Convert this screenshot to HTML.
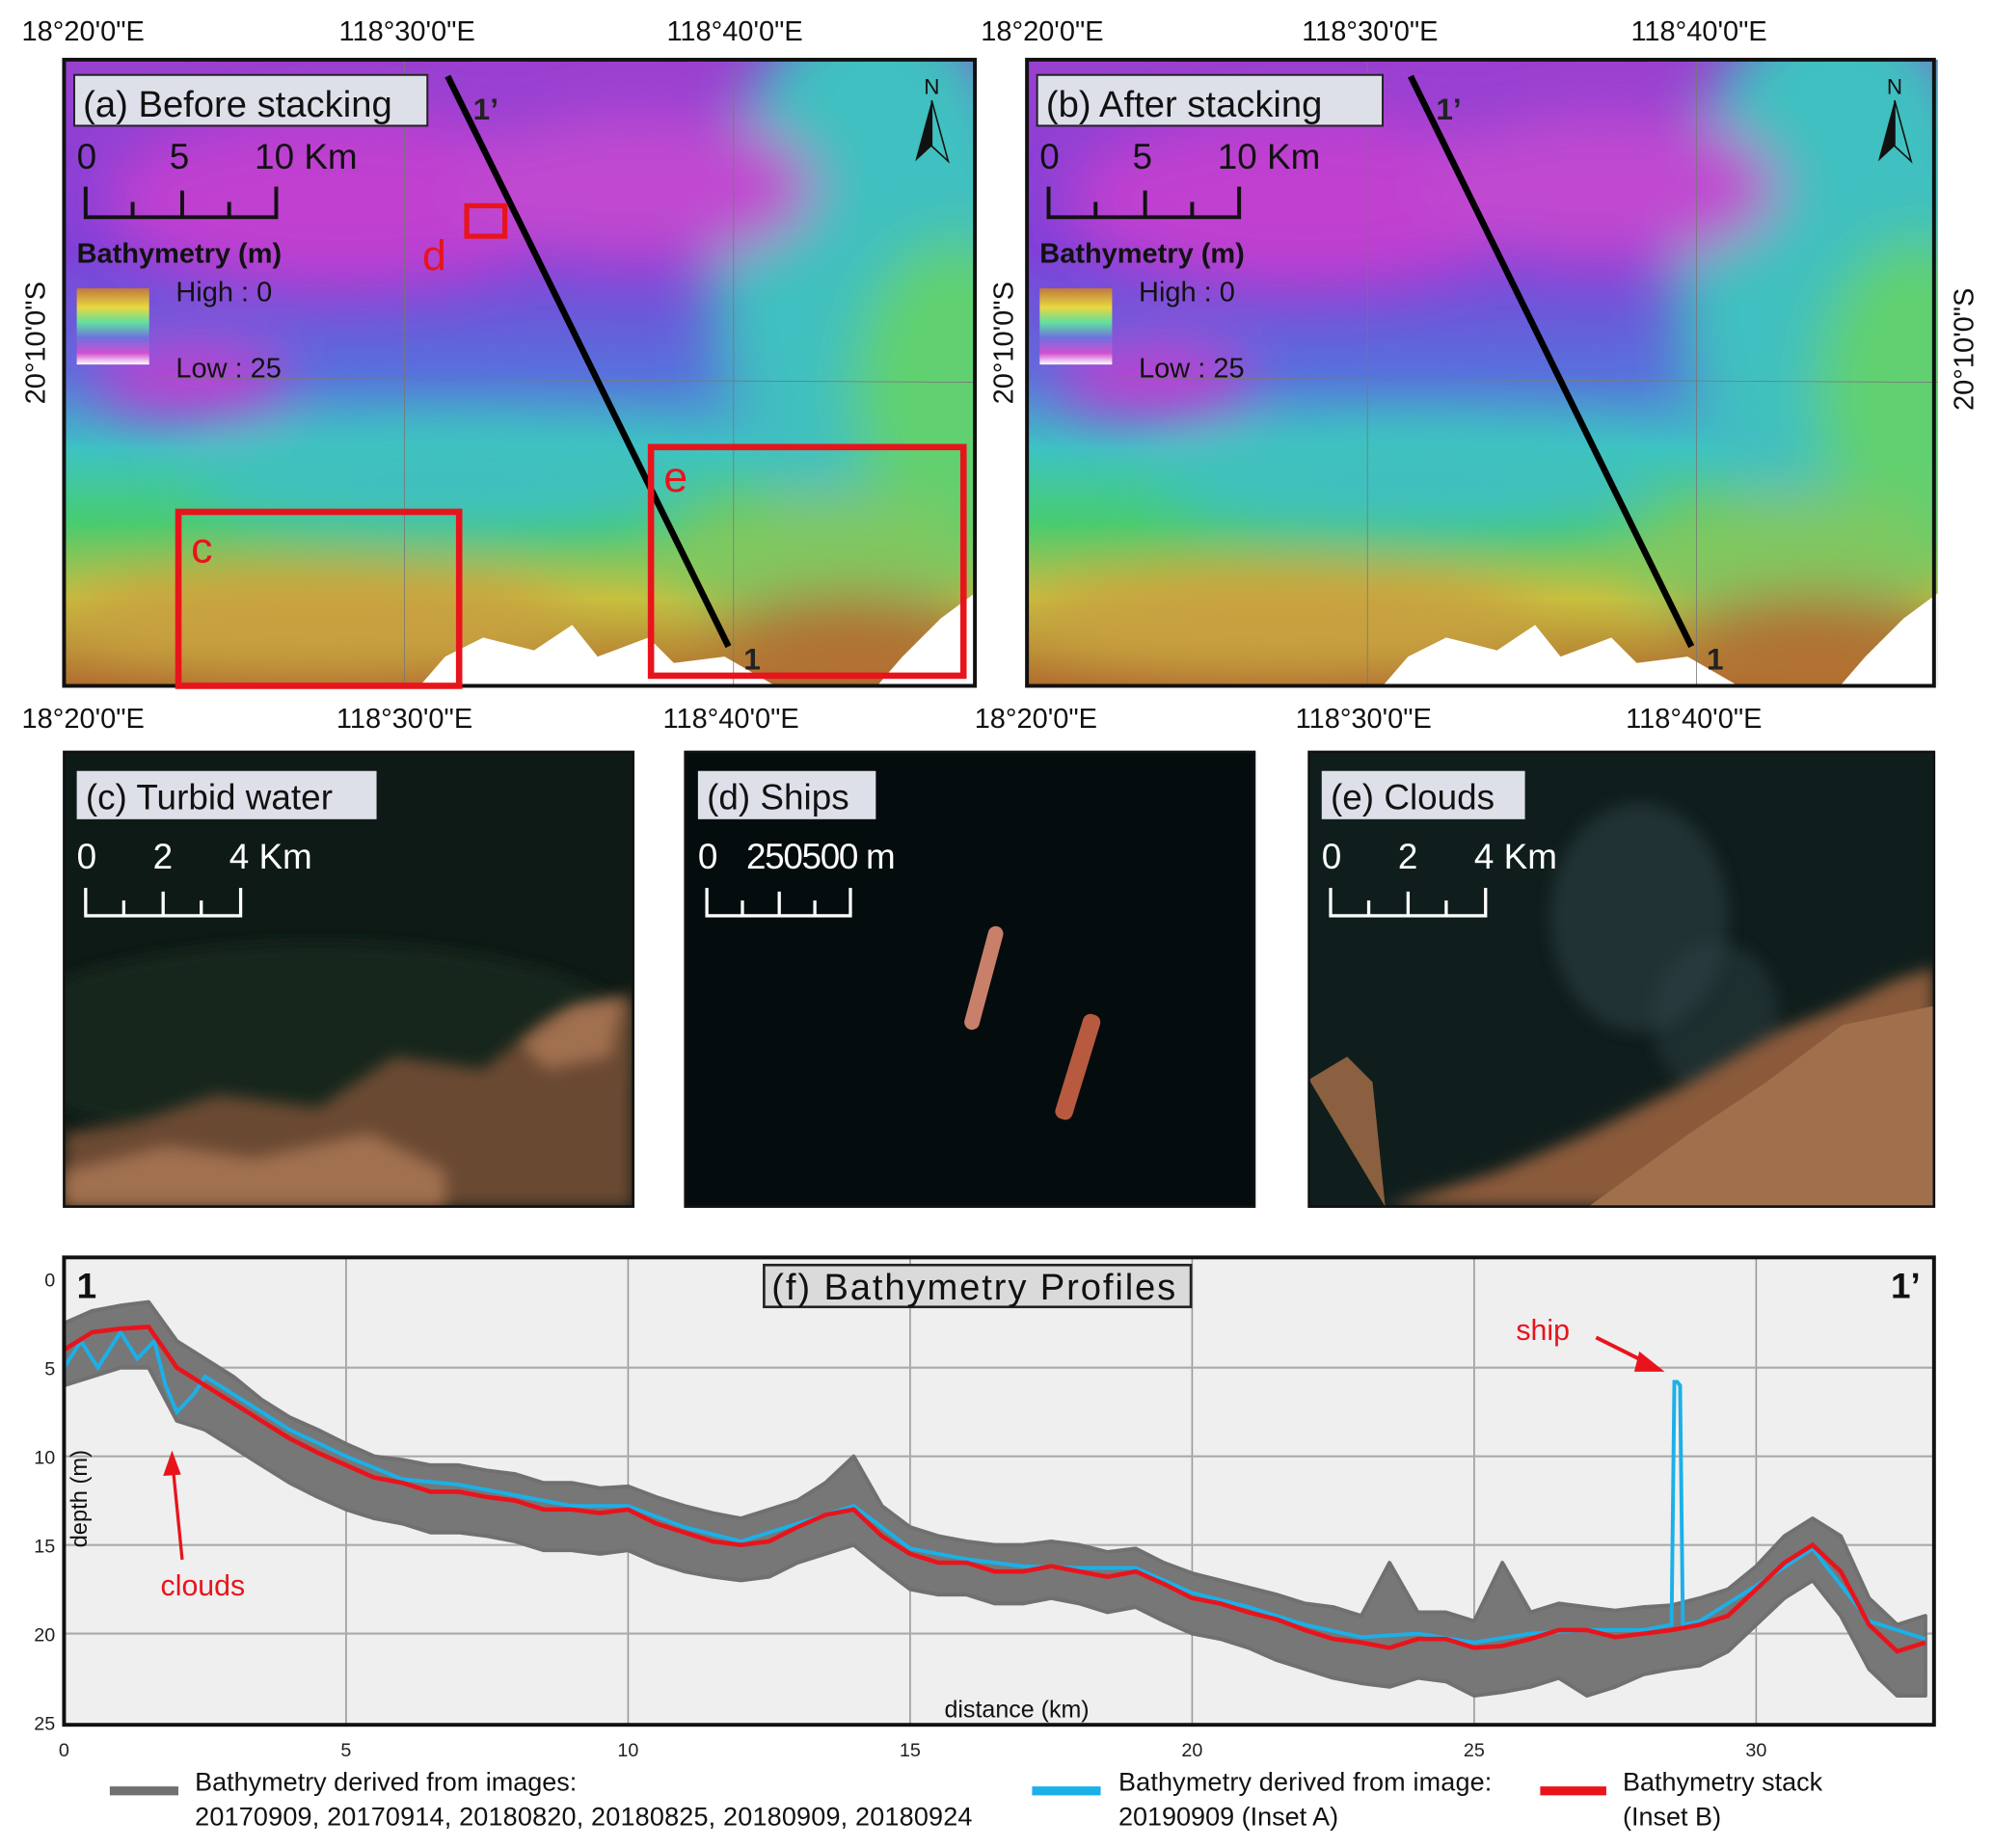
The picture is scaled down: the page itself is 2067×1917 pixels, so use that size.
<!DOCTYPE html>
<html><head><meta charset="utf-8"><style>
html,body{margin:0;padding:0;background:#fff}
svg{display:block}
text{font-family:"Liberation Sans",Arial,sans-serif}
</style></head><body>
<svg id="fig" width="2067" height="1917" viewBox="0 0 1568 1455" xmlns="http://www.w3.org/2000/svg">
<defs>
<linearGradient id="depthg" x1="0" y1="0" x2="0" y2="1">
<stop offset="0" stop-color="#9a40d0"/><stop offset="0.3" stop-color="#8040d8"/><stop offset="0.5" stop-color="#5870dc"/>
<stop offset="0.62" stop-color="#3cc4c4"/><stop offset="0.74" stop-color="#48cc70"/><stop offset="0.86" stop-color="#c8c040"/><stop offset="1" stop-color="#b06a30"/>
</linearGradient>
<linearGradient id="legg" x1="0" y1="0" x2="0" y2="1">
<stop offset="0" stop-color="#c07840"/><stop offset="0.25" stop-color="#e8d840"/><stop offset="0.45" stop-color="#60e0a0"/><stop offset="0.65" stop-color="#7070e0"/><stop offset="0.85" stop-color="#d050d0"/><stop offset="1" stop-color="#fff"/>
</linearGradient>
<filter id="blur" x="-30%" y="-30%" width="160%" height="160%"><feGaussianBlur stdDeviation="22"/></filter>
<filter id="blur2"><feGaussianBlur stdDeviation="6"/></filter>
<clipPath id="mapclip"><rect x="0" y="0" width="717" height="493"/></clipPath>
<clipPath id="insclip"><rect x="0" y="0" width="448" height="358"/></clipPath>
<clipPath id="insclipe"><rect x="0" y="0" width="492" height="358"/></clipPath>
<g id="mapbg">
<g clip-path="url(#mapclip)">
<rect x="0" y="0" width="717" height="493" fill="url(#depthg)"/>
<g filter="url(#blur)">
<ellipse cx="640" cy="170" rx="130" ry="220" fill="#40c0c0"/>
<ellipse cx="700" cy="260" rx="80" ry="120" fill="#60d070"/>
<ellipse cx="220" cy="110" rx="190" ry="70" fill="#c040d0"/>
<ellipse cx="450" cy="100" rx="140" ry="60" fill="#c048d0"/>
<ellipse cx="100" cy="250" rx="80" ry="30" fill="#c040d0"/>
<ellipse cx="300" cy="330" rx="200" ry="40" fill="#40c0c0"/>
<ellipse cx="600" cy="390" rx="130" ry="50" fill="#80c860"/>
<ellipse cx="200" cy="440" rx="200" ry="40" fill="#c8a040"/>
<ellipse cx="620" cy="460" rx="110" ry="40" fill="#b07030"/>
</g>
<path d="M280,493 L300,470 L330,455 L370,465 L400,445 L420,470 L460,455 L480,475 L520,470 L560,493 Z" fill="#fff"/>
<path d="M640,493 L660,470 L690,440 L717,420 L717,493 Z" fill="#fff"/>
<line x1="268" y1="0" x2="268" y2="493" stroke="#777" stroke-width="0.6"/>
<line x1="527" y1="0" x2="527" y2="493" stroke="#777" stroke-width="0.6"/>
<line x1="0" y1="250" x2="717" y2="254" stroke="#777" stroke-width="0.6"/>
</g>
</g>
</defs>

<g font-size="22" fill="#111" text-anchor="middle">
<text x="65" y="32">18°20'0"E</text><text x="320" y="32">118°30'0"E</text><text x="578" y="32">118°40'0"E</text>
<text x="820" y="32">18°20'0"E</text><text x="1078" y="32">118°30'0"E</text><text x="1337" y="32">118°40'0"E</text>
<text x="65" y="573">18°20'0"E</text><text x="318" y="573">118°30'0"E</text><text x="575" y="573">118°40'0"E</text>
<text x="815" y="573">18°20'0"E</text><text x="1073" y="573">118°30'0"E</text><text x="1333" y="573">118°40'0"E</text>
<text transform="translate(35,270) rotate(-90)">20°10'0"S</text>
<text transform="translate(797,270) rotate(-90)">20°10'0"S</text>
<text transform="translate(1553,275) rotate(-90)">20°10'0"S</text>
</g>

<g transform="translate(50,47)">
<use href="#mapbg"/>
<rect x="0" y="0" width="717" height="493" fill="none" stroke="#111" stroke-width="3"/>
<rect x="8" y="12" width="278" height="40" fill="#dde0e8" stroke="#222" stroke-width="1.5"/>
<text x="15" y="45" font-size="29" fill="#111">(a) Before stacking</text>
<text x="10" y="86" font-size="28" fill="#111">0</text><text x="83" y="86" font-size="28" fill="#111">5</text><text x="150" y="86" font-size="28" fill="#111">10 Km</text>
<path d="M17,100 V124 H167 V100 M54,112 V124 M93,103 V124 M130,112 V124" fill="none" stroke="#111" stroke-width="3"/>
<text x="10" y="160" font-size="22" font-weight="bold" font-family="Liberation Serif" fill="#111">Bathymetry (m)</text>
<rect x="10" y="180" width="57" height="60" fill="url(#legg)"/>
<text x="88" y="190" font-size="22" fill="#111">High : 0</text>
<text x="88" y="250" font-size="22" fill="#111">Low :  25</text>
<line x1="302" y1="13" x2="523" y2="462" stroke="#000" stroke-width="5"/>
<text x="322" y="47" font-size="24" font-weight="bold" fill="#222">1’</text>
<text x="535" y="480" font-size="24" font-weight="bold" fill="#222">1</text>
<g><text x="683" y="27" font-size="17" text-anchor="middle" fill="#111">N</text><path d="M683,32 L670,80 L683,68 Z" fill="#111"/><path d="M683,32 L696,80 L683,68 Z" fill="none" stroke="#111" stroke-width="1.2"/></g>
<rect x="90" y="356" width="221" height="137" fill="none" stroke="#e8141c" stroke-width="5"/>
<text x="100" y="396" font-size="34" fill="#e8141c">c</text>
<rect x="462" y="305" width="246" height="180" fill="none" stroke="#e8141c" stroke-width="5"/>
<text x="472" y="340" font-size="34" fill="#e8141c">e</text>
<rect x="317" y="115" width="30" height="24" fill="none" stroke="#e8141c" stroke-width="4"/>
<text x="282" y="166" font-size="34" fill="#e8141c">d</text>
</g>

<g transform="translate(808,47)">
<use href="#mapbg"/>
<rect x="0" y="0" width="714" height="493" fill="none" stroke="#111" stroke-width="3"/>
<rect x="8" y="12" width="272" height="40" fill="#dde0e8" stroke="#222" stroke-width="1.5"/>
<text x="15" y="45" font-size="29" fill="#111">(b) After stacking</text>
<text x="10" y="86" font-size="28" fill="#111">0</text><text x="83" y="86" font-size="28" fill="#111">5</text><text x="150" y="86" font-size="28" fill="#111">10 Km</text>
<path d="M17,100 V124 H167 V100 M54,112 V124 M93,103 V124 M130,112 V124" fill="none" stroke="#111" stroke-width="3"/>
<text x="10" y="160" font-size="22" font-weight="bold" font-family="Liberation Serif" fill="#111">Bathymetry (m)</text>
<rect x="10" y="180" width="57" height="60" fill="url(#legg)"/>
<text x="88" y="190" font-size="22" fill="#111">High : 0</text>
<text x="88" y="250" font-size="22" fill="#111">Low :  25</text>
<line x1="302" y1="13" x2="523" y2="462" stroke="#000" stroke-width="5"/>
<text x="322" y="47" font-size="24" font-weight="bold" fill="#222">1’</text>
<text x="535" y="480" font-size="24" font-weight="bold" fill="#222">1</text>
<g><text x="683" y="27" font-size="17" text-anchor="middle" fill="#111">N</text><path d="M683,32 L670,80 L683,68 Z" fill="#111"/><path d="M683,32 L696,80 L683,68 Z" fill="none" stroke="#111" stroke-width="1.2"/></g>
</g>

<g transform="translate(50,592)">
<g clip-path="url(#insclip)">
<rect width="448" height="358" fill="#0e1a16"/>
<ellipse cx="200" cy="230" rx="260" ry="80" fill="#16281e" filter="url(#blur2)"/>
<path d="M0,300 L60,290 L120,270 L200,280 L260,240 L330,250 L380,210 L448,190 L448,358 L0,358 Z" fill="#6a4a30" filter="url(#blur2)"/>
<path d="M360,230 L400,200 L440,195 L430,240 L380,250 Z M0,330 L80,310 L150,320 L240,300 L300,330 L300,358 L0,358 Z" fill="#a07050" filter="url(#blur2)"/>
</g>
<rect width="448" height="358" fill="none" stroke="#111" stroke-width="2"/>
<rect x="10" y="15" width="236" height="38" fill="#dde0e8"/>
<text x="17" y="45" font-size="28" fill="#111">(c) Turbid water</text>
<text x="10" y="92" font-size="28" fill="#fff">0</text><text x="70" y="92" font-size="28" fill="#fff">2</text><text x="130" y="92" font-size="28" fill="#fff">4 Km</text>
<path d="M17,107 V129 H139 V107 M47,117 V129 M78,110 V129 M108,117 V129" fill="none" stroke="#fff" stroke-width="2.5"/>
</g>

<g transform="translate(539,592)">
<rect width="448" height="358" fill="#050c0e"/>
<g><rect x="-6" y="-42" width="12" height="84" rx="6" fill="#c8806a" transform="translate(235,178) rotate(15)"/></g>
<g><rect x="-7" y="-43" width="14" height="86" rx="6" fill="#b85a40" transform="translate(309,248) rotate(17)"/></g>
<rect width="448" height="358" fill="none" stroke="#111" stroke-width="2"/>
<rect x="10" y="15" width="140" height="38" fill="#dde0e8"/>
<text x="17" y="45" font-size="28" fill="#111">(d) Ships</text>
<text x="10" y="92" font-size="28" fill="#fff">0</text><text x="48" y="92" font-size="28" fill="#fff" letter-spacing="-1">250500 m</text>
<path d="M17,107 V129 H130 V107 M45,117 V129 M74,110 V129 M102,117 V129" fill="none" stroke="#fff" stroke-width="2.5"/>
</g>

<g transform="translate(1030,592)">
<g clip-path="url(#insclipe)">
<rect width="492" height="358" fill="#0f1e1c"/>
<ellipse cx="260" cy="130" rx="70" ry="90" fill="#2e4044" opacity="0.6" filter="url(#blur2)"/>
<ellipse cx="320" cy="210" rx="50" ry="60" fill="#2e4044" opacity="0.5" filter="url(#blur2)"/>
<path d="M0,258 L30,240 L50,260 L60,358 Z" fill="#8a6040"/>
<path d="M60,358 L150,330 L220,300 L300,260 L370,220 L420,200 L460,180 L492,170 L492,358 Z" fill="#8a5a3a" filter="url(#blur2)"/>
<path d="M220,358 L300,300 L360,260 L420,215 L492,200 L492,358 Z" fill="#a0704c"/>
</g>
<rect width="492" height="358" fill="none" stroke="#111" stroke-width="2"/>
<rect x="10" y="15" width="160" height="38" fill="#dde0e8"/>
<text x="17" y="45" font-size="28" fill="#111">(e) Clouds</text>
<text x="10" y="92" font-size="28" fill="#fff">0</text><text x="70" y="92" font-size="28" fill="#fff">2</text><text x="130" y="92" font-size="28" fill="#fff">4 Km</text>
<path d="M17,107 V129 H139 V107 M47,117 V129 M78,110 V129 M108,117 V129" fill="none" stroke="#fff" stroke-width="2.5"/>
</g>

<g id="chart">
<rect x="50" y="990" width="1472" height="368" fill="#efefef"/>
<g id="grid"></g>
<g id="series"></g>
<rect x="50" y="990" width="1472" height="368" fill="none" stroke="#111" stroke-width="3"/>
<g id="ticks" font-size="15" fill="#222"></g>
<text x="60" y="1022" font-size="28" font-weight="bold" fill="#111">1</text>
<text x="1488" y="1022" font-size="28" font-weight="bold" fill="#111">1’</text>
<rect x="601" y="996" width="336" height="33" fill="#dadada" stroke="#222" stroke-width="2"/>
<text x="607" y="1023" font-size="29" fill="#111" textLength="318">(f)  Bathymetry Profiles</text>
<text transform="translate(68,1180) rotate(-90)" font-size="18" text-anchor="middle" fill="#111">depth (m)</text>
<text x="800" y="1352" font-size="19" text-anchor="middle" fill="#111">distance (km)</text>
<g><text x="1193" y="1055" font-size="23" fill="#e8141c">ship</text>
<line x1="1256" y1="1053" x2="1300" y2="1075" stroke="#e8141c" stroke-width="3"/><path d="M1310,1080 L1290,1064 L1286,1080 Z" fill="#e8141c"/></g>
<g><text x="126" y="1256" font-size="23" fill="#e8141c">clouds</text>
<line x1="143" y1="1228" x2="136" y2="1158" stroke="#e8141c" stroke-width="2.5"/><path d="M135,1142 L128,1162 L142,1161 Z" fill="#e8141c"/></g>
<g font-size="20.5" fill="#111">
<line x1="86" y1="1410" x2="140" y2="1410" stroke="#707070" stroke-width="7"/>
<text x="153" y="1410">Bathymetry derived from images:</text>
<text x="153" y="1437" textLength="612">20170909, 20170914, 20180820, 20180825, 20180909, 20180924</text>
<line x1="812" y1="1410" x2="866" y2="1410" stroke="#1cb0e8" stroke-width="7"/>
<text x="880" y="1410" textLength="294">Bathymetry derived from image:</text>
<text x="880" y="1437">20190909 (Inset A)</text>
<line x1="1212" y1="1410" x2="1264" y2="1410" stroke="#e8141c" stroke-width="7"/>
<text x="1277" y="1410">Bathymetry stack</text>
<text x="1277" y="1437">(Inset B)</text>
</g>
</g>
</svg>
<script>
const xTicks = [0, 5, 10, 15, 20, 25, 30];
const yTicks = [0, 5, 10, 15, 20, 25];
const distKm = [0,0.5,1,1.5,2,2.5,3,3.5,4,4.5,5,5.5,6,6.5,7,7.5,8,8.5,9,9.5,10,10.5,11,11.5,12,12.5,13,13.5,14,14.5,15,15.5,16,16.5,17,17.5,18,18.5,19,19.5,20,20.5,21,21.5,22,22.5,23,23.5,24,24.5,25,25.5,26,26.5,27,27.5,28,28.5,29,29.5,30,30.5,31,31.5,32,32.5,33];
const stackDepth = [4,3,2.8,2.7,5,6,7,8,9,9.8,10.5,11.2,11.5,12,12,12.3,12.5,13,13,13.2,13,13.8,14.3,14.8,15,14.8,14,13.3,13,14.5,15.5,16,16,16.5,16.5,16.2,16.5,16.8,16.5,17.2,18,18.3,18.8,19.2,19.8,20.3,20.5,20.8,20.3,20.3,20.8,20.7,20.3,19.8,19.8,20.2,20,19.8,19.5,19,17.5,16,15,16.5,19.5,21,20.5];
const grayShallow = [2.5,1.8,1.5,1.3,3.5,4.5,5.5,6.8,7.8,8.5,9.3,10,10.2,10.5,10.5,10.8,11,11.5,11.5,11.8,11.7,12.3,12.8,13.2,13.5,13,12.5,11.5,10,12.8,14,14.5,14.8,15,15,14.8,15,15.4,15.2,16,16.6,17,17.4,17.8,18.3,18.5,19,16,18.8,18.8,19.3,16,18.8,18.3,18.5,18.7,18.5,18.4,18,17.5,16.2,14.5,13.5,14.5,18,19.5,19];
const grayDeep = [6,5.5,5,5,8,8.5,9.5,10.5,11.5,12.3,13,13.5,13.8,14.3,14.3,14.5,14.8,15.3,15.3,15.5,15.3,16,16.5,16.8,17,16.8,16,15.5,15,16.3,17.5,17.8,17.8,18.3,18.3,18,18.3,18.8,18.5,19.3,20,20.3,20.8,21.5,22,22.5,22.8,23,22.5,22.7,23.5,23.3,23,22.5,23.5,23,22.3,22,21.8,21,19.5,18,17,19,22,23.5,23.5];
const blueKm = [0,0.3,0.6,1,1.3,1.6,1.8,2,2.3,2.5,3,3.5,4,5,6,7,8,9,10,11,12,13,14,15,16,17,18,19,20,21,22,23,24,25,26,27,28,28.5,28.55,28.6,28.65,28.7,29,30,31,32,33];
const blueDepth = [5,3.5,5,3,4.5,3.5,6,7.5,6.5,5.5,6.5,7.5,8.5,10,11.3,11.6,12.2,12.8,12.8,14,14.8,13.8,12.8,15.2,15.8,16.2,16.3,16.3,17.7,18.5,19.5,20.2,20,20.5,20,19.8,19.8,19.5,5.8,5.8,6,19.5,19.3,17.3,15.2,19.3,20.3];

const X0 = 50, PXKM = 44.4, Y0 = 1007, PXM = 13.96;
function xs(k){ return X0 + k*PXKM; }
function ys(d){ return Y0 + d*PXM; }
const NS = 'http://www.w3.org/2000/svg';
const grid = document.getElementById('grid');
const ticks = document.getElementById('ticks');
const series = document.getElementById('series');

xTicks.forEach(function(t){
  const l = document.createElementNS(NS,'line');
  l.setAttribute('x1', xs(t)); l.setAttribute('x2', xs(t)); l.setAttribute('y1', 990); l.setAttribute('y2', 1358);
  l.setAttribute('stroke', '#999'); l.setAttribute('stroke-width', '1.2');
  
  
  grid.appendChild(l);
  const tx = document.createElementNS(NS,'text');
  tx.setAttribute('x', xs(t)); tx.setAttribute('y', 1383); tx.setAttribute('text-anchor', 'middle');
  tx.textContent = t;
  
  
  ticks.appendChild(tx);
});
yTicks.forEach(function(t){
  if (t > 0 && t < 25) {
    const l = document.createElementNS(NS,'line');
    l.setAttribute('x1', 50); l.setAttribute('x2', 1522); l.setAttribute('y1', ys(t)); l.setAttribute('y2', ys(t));
    l.setAttribute('stroke', '#aaa'); l.setAttribute('stroke-width', '1.6');
    
    
    grid.appendChild(l);
  }
  const tx = document.createElementNS(NS,'text');
  tx.setAttribute('x', 43); tx.setAttribute('y', ys(t)+6); tx.setAttribute('text-anchor', 'end');
  tx.textContent = t;
  
  
  ticks.appendChild(tx);
});

let gp = '';
distKm.forEach(function(k,i){ gp += (i ? 'L' : 'M') + xs(k).toFixed(1) + ',' + ys(grayShallow[i]).toFixed(1); });
for (let i = distKm.length-1; i >= 0; i--) gp += 'L' + xs(distKm[i]).toFixed(1) + ',' + ys(grayDeep[i]).toFixed(1);
gp += 'Z';
const band = document.createElementNS(NS,'path');
band.setAttribute('d', gp); band.setAttribute('fill', '#777'); band.setAttribute('stroke', '#707070'); band.setAttribute('stroke-width', '3'); band.setAttribute('stroke-linejoin', 'round');


series.appendChild(band);

const blue = document.createElementNS(NS,'polyline');
blue.setAttribute('points', blueKm.map(function(k,i){ return xs(k).toFixed(1)+','+ys(blueDepth[i]).toFixed(1); }).join(' '));
blue.setAttribute('fill', 'none'); blue.setAttribute('stroke', '#1cb0e8'); blue.setAttribute('stroke-width', '3');


series.appendChild(blue);

const red = document.createElementNS(NS,'polyline');
red.setAttribute('points', distKm.map(function(k,i){ return xs(k).toFixed(1)+','+ys(stackDepth[i]).toFixed(1); }).join(' '));
red.setAttribute('fill', 'none'); red.setAttribute('stroke', '#e8141c'); red.setAttribute('stroke-width', '3.5');


series.appendChild(red);
</script>
</body></html>
